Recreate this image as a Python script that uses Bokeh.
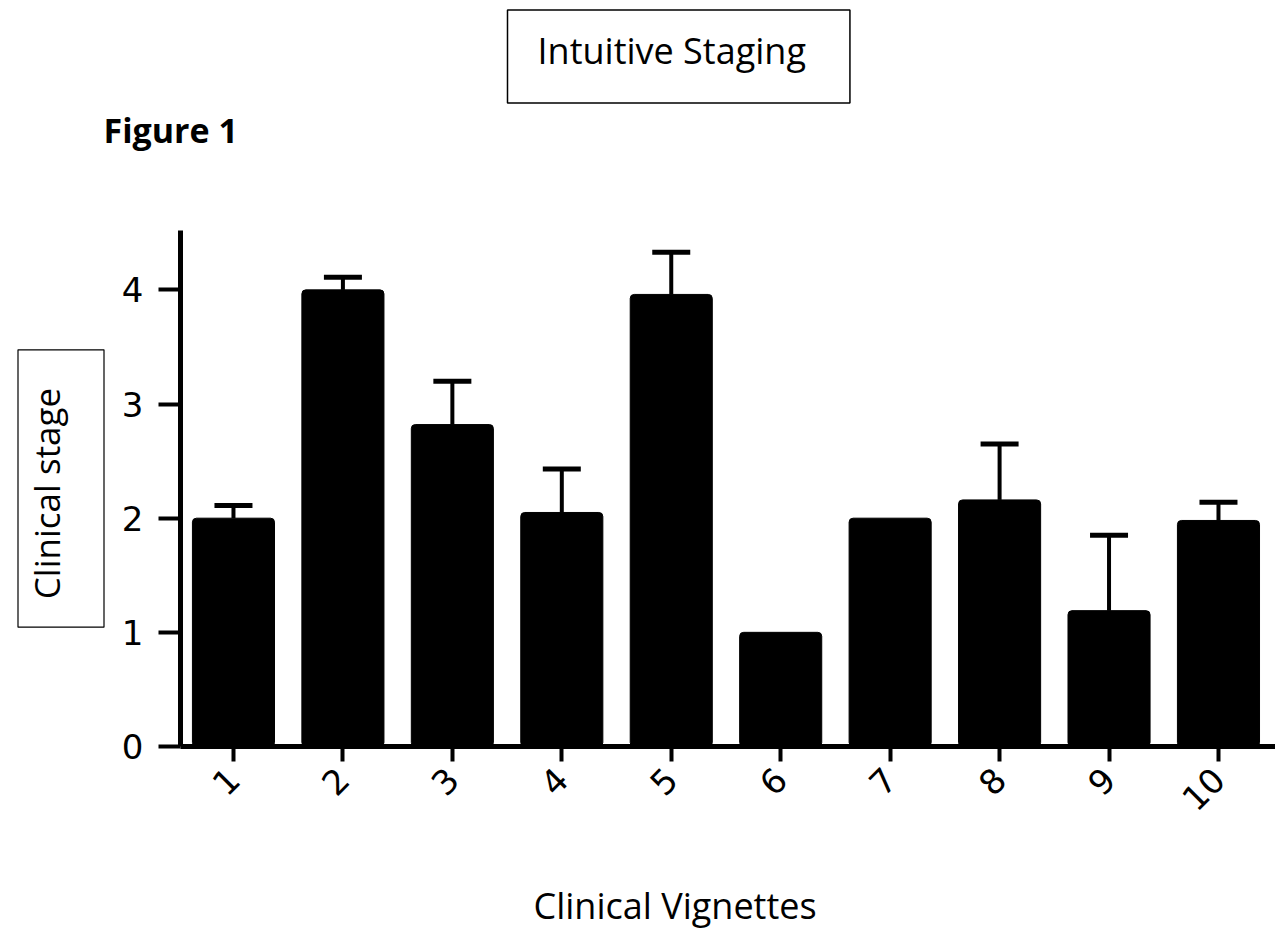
from math import pi
from bokeh.plotting import figure
from bokeh.models import Range1d, FixedTicker, Title, Whisker, ColumnDataSource, TeeHead
from bokeh.embed import file_html
from bokeh.resources import INLINE

vignettes = [1, 2, 3, 4, 5, 6, 7, 8, 9, 10]
tick_labels = ["1", "2", "3", "4", "5", "6", "7", "8", "9", "10"]
stage_mean = [2.0, 4.0, 2.82, 2.05, 3.96, 1.0, 2.0, 2.16, 1.19, 1.98]
stage_upper = [2.11, 4.11, 3.2, 2.43, 4.33, 1.0, 2.0, 2.65, 1.85, 2.14]
y_ticks = [0, 1, 2, 3, 4]

W, H = 1275, 929
p = figure(width=W, height=H, output_backend="svg", toolbar_location=None,
           x_range=Range1d(0.516, 10.521), y_range=Range1d(0, 4.52),
           min_border_left=180, min_border_right=0, min_border_top=230,
           min_border_bottom=H - 753)
p.outline_line_color = None
p.xgrid.visible = False
p.ygrid.visible = False

src = ColumnDataSource(dict(x=vignettes, top=stage_mean, upper=stage_upper))
p.vbar(x="x", top="top", width=0.75, source=src, fill_color="black", line_color="black",
       border_radius=4)

err_idx = [i for i in range(len(vignettes)) if stage_upper[i] > stage_mean[i] + 1e-9]
esrc = ColumnDataSource(dict(x=[vignettes[i] for i in err_idx],
                             lower=[stage_mean[i] for i in err_idx],
                             upper=[stage_upper[i] for i in err_idx]))
wh = Whisker(base="x", lower="lower", upper="upper", source=esrc, line_color="black",
             line_width=4, lower_head=None,
             upper_head=TeeHead(size=38, line_width=5, line_color="black"))
p.add_layout(wh)

tick_font = "DejaVu Sans"
for ax in (p.xaxis[0], p.yaxis[0]):
    ax.axis_line_width = 5
    ax.axis_line_color = "black"
    ax.major_tick_line_width = 4
    ax.major_tick_line_color = "black"
    ax.major_tick_in = 0
    ax.minor_tick_line_color = None
    ax.major_label_text_font = tick_font
    ax.major_label_text_font_size = "34px"
    ax.major_label_text_color = "black"

p.xaxis.ticker = FixedTicker(ticks=vignettes)
p.xaxis.major_label_overrides = {v: t for v, t in zip(vignettes, tick_labels)}
p.xaxis.major_label_orientation = pi / 4
p.xaxis.major_tick_out = 15
p.xaxis.major_label_standoff = 12
p.yaxis.ticker = FixedTicker(ticks=y_ticks)
p.yaxis.major_tick_out = 22
p.yaxis.major_label_standoff = 15

fig_lbl = Title(text="Figure 1", text_font="Open Sans", text_font_size="34px",
                text_font_style="bold", text_color="black", align="left",
                offset=-77, standoff=0, padding=dict(left=0, right=0, top=0, bottom=78))
p.add_layout(fig_lbl, "above")

title = Title(text="Intuitive Staging", text_font="Open Sans", text_font_size="36px",
              text_font_style="normal", text_color="black", align="left", offset=327,
              border_line_color="black", border_line_width=1.5,
              padding=dict(left=30, right=44, top=16, bottom=28), standoff=3)
p.add_layout(title, "above")

ylab = Title(text="Clinical stage", text_font="Open Sans", text_font_size="35px",
             text_font_style="normal", text_color="black", align="center",
             vertical_align="middle", border_line_color="black", border_line_width=1.2,
             padding=dict(left=28, right=38, top=5, bottom=34), standoff=0)
p.add_layout(ylab, "left")

xlab = Title(text="Clinical Vignettes", text_font="Open Sans", text_font_size="36px",
             text_font_style="normal", text_color="black", align="left", offset=353,
             standoff=0, padding=dict(left=0, right=0, top=54, bottom=0))
p.add_layout(xlab, "below")

open("out.html", "w").write(file_html(p, INLINE))
